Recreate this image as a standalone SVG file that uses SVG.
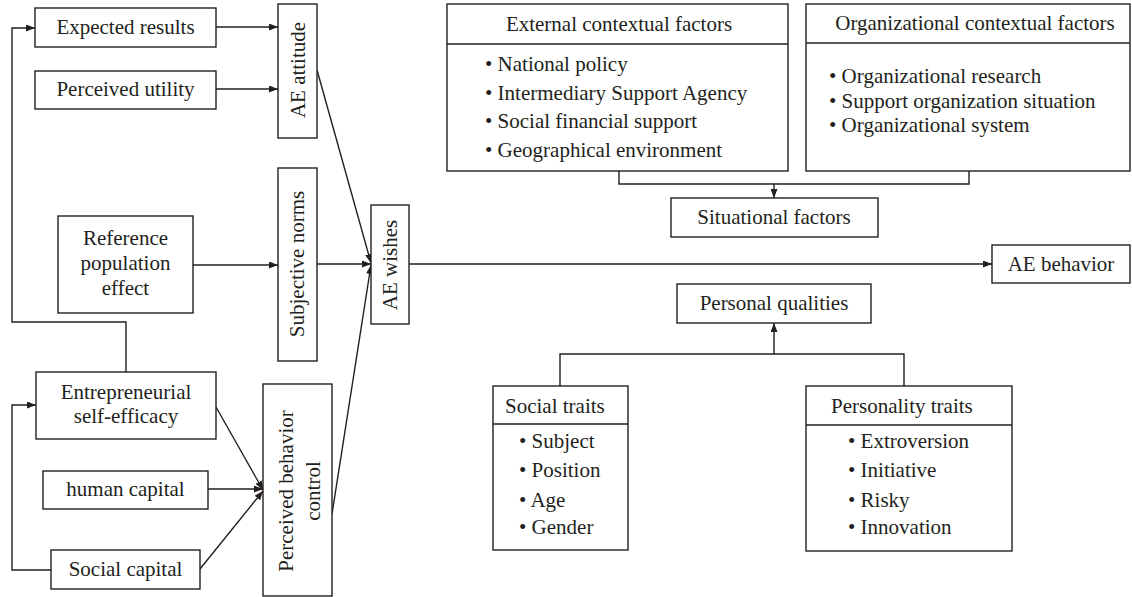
<svg xmlns="http://www.w3.org/2000/svg" width="1132" height="597" viewBox="0 0 1132 597">
<defs>
<marker id="arr" markerUnits="userSpaceOnUse" markerWidth="9" markerHeight="7" refX="9" refY="3.5" orient="auto">
<path d="M0,0 L9,3.5 L0,7 z" fill="#231f20"/>
</marker>
<style>
rect{fill:#fff;stroke:#231f20;stroke-width:1.4}
.sep{stroke:#231f20;stroke-width:1.4}
text{font-family:"Liberation Serif","Times New Roman",serif;font-size:21px;fill:#231f20}
.c{text-anchor:middle}
.ln{fill:none;stroke:#231f20;stroke-width:1.4}
.ar{fill:none;stroke:#231f20;stroke-width:1.4;marker-end:url(#arr)}
</style>
</defs>
<rect width="1132" height="597" style="fill:#fff;stroke:none"/>

<g id="connectors">
<line class="ar" x1="216" y1="27" x2="278" y2="27"/>
<line class="ar" x1="216" y1="89" x2="278" y2="89"/>
<line class="ar" x1="193" y1="265" x2="278" y2="265"/>
<line class="ar" x1="317" y1="70" x2="371" y2="263"/>
<line class="ar" x1="317" y1="264" x2="371" y2="264"/>
<line class="ar" x1="332" y1="514" x2="371" y2="265"/>
<polyline class="ar" points="126,372 126,322 12,322 12,28 35,28"/>
<polyline class="ar" points="51,570 12,570 12,405 36,405"/>
<line class="ar" x1="216" y1="407" x2="263" y2="490"/>
<line class="ar" x1="208" y1="489" x2="263" y2="489"/>
<line class="ar" x1="200" y1="569" x2="263" y2="491"/>
<line class="ar" x1="409" y1="264" x2="992" y2="264"/>
<polyline class="ln" points="619,171 619,184 969,184 969,171"/>
<line class="ar" x1="774" y1="184" x2="774" y2="198"/>
<polyline class="ln" points="560,386 560,354 904,354 904,386"/>
<line class="ar" x1="774" y1="354" x2="774" y2="323"/>
</g>

<g id="expected-results">
<rect x="35" y="8" width="181" height="39"/>
<text class="c" x="125.5" y="34">Expected results</text>
</g>
<g id="perceived-utility">
<rect x="35" y="71" width="181" height="38"/>
<text class="c" x="125.5" y="96">Perceived utility</text>
</g>
<g id="ae-attitude">
<rect x="278" y="4" width="39" height="134"/>
<text class="c" transform="translate(304.5,70) rotate(-90)">AE attitude</text>
</g>
<g id="reference-population">
<rect x="58" y="216" width="135" height="97"/>
<text class="c" x="125.5" y="245">Reference</text>
<text class="c" x="125.5" y="270">population</text>
<text class="c" x="125.5" y="295">effect</text>
</g>
<g id="subjective-norms">
<rect x="278" y="168" width="39" height="193"/>
<text class="c" transform="translate(304,264) rotate(-90)">Subjective norms</text>
</g>
<g id="ae-wishes">
<rect x="371" y="205" width="38" height="119"/>
<text class="c" transform="translate(397,265) rotate(-90)">AE wishes</text>
</g>
<g id="entrepreneurial-self-efficacy">
<rect x="36" y="372" width="180" height="67"/>
<text class="c" x="126" y="399">Entrepreneurial</text>
<text class="c" x="126" y="423">self-efficacy</text>
</g>
<g id="human-capital">
<rect x="43" y="471" width="165" height="38"/>
<text class="c" x="125.5" y="496">human capital</text>
</g>
<g id="social-capital">
<rect x="51" y="550" width="149" height="39"/>
<text class="c" x="125.5" y="576">Social capital</text>
</g>
<g id="perceived-behavior-control">
<rect x="263" y="384" width="69" height="212"/>
<text class="c" transform="translate(293,491) rotate(-90)">Perceived behavior</text>
<text class="c" transform="translate(320,491) rotate(-90)">control</text>
</g>

<g id="external-contextual-factors">
<rect x="447" y="4" width="341" height="167"/>
<line class="sep" x1="447" y1="44" x2="788" y2="44"/>
<text class="c" x="619" y="31">External contextual factors</text>
<text x="485" y="71">• National policy</text>
<text x="485" y="100">• Intermediary Support Agency</text>
<text x="485" y="128">• Social financial support</text>
<text x="485" y="157">• Geographical environment</text>
</g>
<g id="organizational-contextual-factors">
<rect x="806" y="4" width="324" height="167"/>
<line class="sep" x1="806" y1="43" x2="1130" y2="43"/>
<text class="c" x="975" y="30">Organizational contextual factors</text>
<text x="829" y="83">• Organizational research</text>
<text x="829" y="108">• Support organization situation</text>
<text x="829" y="132">• Organizational system</text>
</g>
<g id="situational-factors">
<rect x="671" y="198" width="207" height="39"/>
<text class="c" x="774" y="224">Situational factors</text>
</g>
<g id="ae-behavior">
<rect x="992" y="245" width="138" height="38"/>
<text class="c" x="1061" y="271">AE behavior</text>
</g>
<g id="personal-qualities">
<rect x="677" y="284" width="194" height="39"/>
<text class="c" x="774" y="310">Personal qualities</text>
</g>
<g id="social-traits">
<rect x="493" y="386" width="135" height="164"/>
<line class="sep" x1="493" y1="424" x2="628" y2="424"/>
<text x="505" y="413">Social traits</text>
<text x="519" y="448">• Subject</text>
<text x="519" y="477">• Position</text>
<text x="519" y="507">• Age</text>
<text x="519" y="534">• Gender</text>
</g>
<g id="personality-traits">
<rect x="806" y="386" width="206" height="165"/>
<line class="sep" x1="806" y1="425" x2="1012" y2="425"/>
<text x="831" y="413">Personality traits</text>
<text x="848" y="448">• Extroversion</text>
<text x="848" y="477">• Initiative</text>
<text x="848" y="507">• Risky</text>
<text x="848" y="534">• Innovation</text>
</g>
</svg>
